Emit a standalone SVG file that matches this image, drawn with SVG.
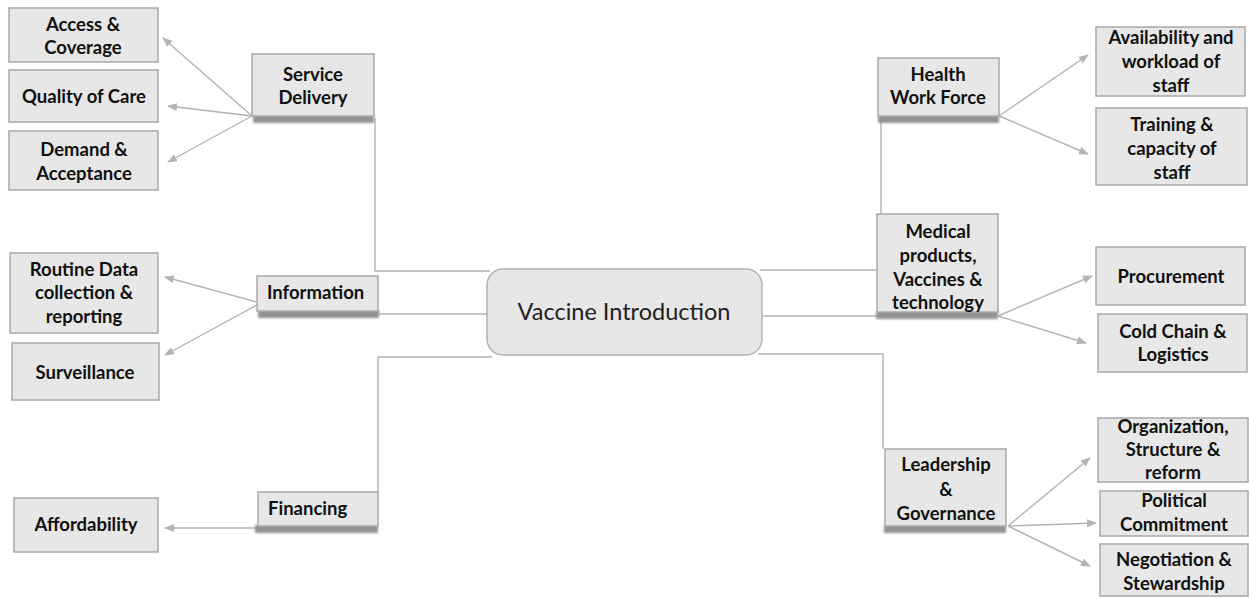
<svg xmlns="http://www.w3.org/2000/svg" width="1249" height="599" viewBox="0 0 1249 599">
<defs>
<style>
.box{fill:#e7e7e7;stroke:#a9a9a9;stroke-width:1.5}
.shadow{fill:#939393;filter:url(#blur)}
.t{font-family:Lato,"Open Sans","Liberation Sans",sans-serif;font-weight:bold;font-size:18.5px;fill:#111;text-anchor:middle}
.tl{text-anchor:start}
.ln{fill:none;stroke:#b3b3b3;stroke-width:1.4}
.ar{fill:none;stroke:#b3b3b3;stroke-width:1.4;marker-end:url(#ah)}
.center{font-family:Lato,"Open Sans","Liberation Sans",sans-serif;font-size:23.5px;fill:#222;text-anchor:middle}
</style>
<filter id="blur" x="-10%" y="-50%" width="120%" height="200%"><feGaussianBlur stdDeviation="1.2"/></filter>
<marker id="ah" markerWidth="10" markerHeight="8" refX="9" refY="4" orient="auto" markerUnits="userSpaceOnUse">
<path d="M0,0 L10,4 L0,8 Z" fill="#b3b3b3"/>
</marker>
</defs>
<rect width="1249" height="599" fill="#fff"/>

<g id="connectors">
<polyline class="ln" points="375,118 375,271 490,271"/>
<line class="ln" x1="378" y1="314" x2="488" y2="314"/>
<polyline class="ln" points="378,492 378,357 492,357"/>
<line class="ln" x1="760" y1="270" x2="877" y2="270"/>
<line class="ln" x1="762" y1="316" x2="877" y2="316"/>
<polyline class="ln" points="758,354 883,354 883,449"/>
<line class="ln" x1="881" y1="118" x2="881" y2="214"/>
<line class="ar" x1="252" y1="116" x2="163" y2="38"/>
<line class="ar" x1="252" y1="116" x2="168" y2="106"/>
<line class="ar" x1="252" y1="116" x2="168" y2="162"/>
<line class="ar" x1="257" y1="302" x2="165" y2="277"/>
<line class="ar" x1="257" y1="305" x2="165" y2="355"/>
<line class="ar" x1="258" y1="528" x2="165" y2="528"/>
<line class="ar" x1="999" y1="116" x2="1088" y2="55"/>
<line class="ar" x1="999" y1="116" x2="1088" y2="154"/>
<line class="ar" x1="998" y1="316" x2="1092" y2="276"/>
<line class="ar" x1="998" y1="316" x2="1086" y2="343"/>
<line class="ar" x1="1008" y1="526" x2="1090" y2="458"/>
<line class="ar" x1="1008" y1="526" x2="1096" y2="523"/>
<line class="ar" x1="1008" y1="526" x2="1090" y2="566"/>
</g>

<g id="center">
<rect x="487" y="269" width="275" height="86" rx="16" ry="16" fill="#e7e7e7" stroke="#b3b3b3" stroke-width="1.5"/>
<text class="center" x="624" y="320">Vaccine Introduction</text>
</g>

<g id="service-delivery">
<rect class="shadow" x="253" y="115" width="121" height="8"/>
<rect class="box" x="252" y="54" width="122" height="62"/>
<text class="t" x="313" y="81">Service</text>
<text class="t" x="313" y="104">Delivery</text>
</g>
<g id="information">
<rect class="shadow" x="258" y="310" width="121" height="8"/>
<rect class="box" x="257" y="276" width="121" height="35"/>
<text class="t tl" x="267" y="299">Information</text>
</g>
<g id="financing">
<rect class="shadow" x="255" y="525" width="123" height="8"/>
<rect class="box" x="258" y="492" width="120" height="34"/>
<text class="t tl" x="268" y="515">Financing</text>
</g>
<g id="health-work-force">
<rect class="shadow" x="878" y="115" width="121" height="8"/>
<rect class="box" x="878" y="58" width="121" height="58"/>
<text class="t" x="938" y="81">Health</text>
<text class="t" x="938" y="104">Work Force</text>
</g>
<g id="medical-products">
<rect class="shadow" x="876" y="311" width="122" height="8"/>
<rect class="box" x="877" y="214" width="121" height="98"/>
<text class="t" x="938" y="238">Medical</text>
<text class="t" x="938" y="262">products,</text>
<text class="t" x="938" y="286">Vaccines &amp;</text>
<text class="t" x="938" y="309">technology</text>
</g>
<g id="leadership">
<rect class="shadow" x="884" y="525" width="122" height="8"/>
<rect class="box" x="885" y="449" width="121" height="77"/>
<text class="t" x="946" y="471">Leadership</text>
<text class="t" x="946" y="496">&amp;</text>
<text class="t" x="946" y="520">Governance</text>
</g>

<g id="access-coverage">
<rect class="box" x="9" y="8" width="149" height="54"/>
<text class="t" x="83" y="31">Access &amp;</text>
<text class="t" x="83" y="54">Coverage</text>
</g>
<g id="quality-of-care">
<rect class="box" x="9" y="70" width="149" height="52"/>
<text class="t" x="84" y="103">Quality of Care</text>
</g>
<g id="demand-acceptance">
<rect class="box" x="9" y="131" width="149" height="59"/>
<text class="t" x="84" y="156">Demand &amp;</text>
<text class="t" x="84" y="180">Acceptance</text>
</g>
<g id="routine-data">
<rect class="box" x="10" y="253" width="148" height="80"/>
<text class="t" x="84" y="276">Routine Data</text>
<text class="t" x="84" y="299">collection &amp;</text>
<text class="t" x="84" y="323">reporting</text>
</g>
<g id="surveillance">
<rect class="box" x="12" y="343" width="147" height="57"/>
<text class="t" x="85" y="379">Surveillance</text>
</g>
<g id="affordability">
<rect class="box" x="14" y="498" width="144" height="54"/>
<text class="t" x="86" y="531">Affordability</text>
</g>
<g id="availability">
<rect class="box" x="1096" y="27" width="149" height="69"/>
<text class="t" x="1171" y="44">Availability and</text>
<text class="t" x="1171" y="68">workload of</text>
<text class="t" x="1171" y="92">staff</text>
</g>
<g id="training">
<rect class="box" x="1096" y="108" width="151" height="77"/>
<text class="t" x="1172" y="131">Training &amp;</text>
<text class="t" x="1172" y="155">capacity of</text>
<text class="t" x="1172" y="179">staff</text>
</g>
<g id="procurement">
<rect class="box" x="1096" y="247" width="149" height="58"/>
<text class="t" x="1171" y="283">Procurement</text>
</g>
<g id="cold-chain">
<rect class="box" x="1098" y="314" width="149" height="58"/>
<text class="t" x="1173" y="338">Cold Chain &amp;</text>
<text class="t" x="1173" y="361">Logistics</text>
</g>
<g id="organization">
<rect class="box" x="1098" y="418" width="150" height="64"/>
<text class="t" x="1173" y="433">Organization,</text>
<text class="t" x="1173" y="456">Structure &amp;</text>
<text class="t" x="1173" y="479">reform</text>
</g>
<g id="political">
<rect class="box" x="1100" y="491" width="148" height="45"/>
<text class="t" x="1174" y="507">Political</text>
<text class="t" x="1174" y="531">Commitment</text>
</g>
<g id="negotiation">
<rect class="box" x="1100" y="544" width="148" height="52"/>
<text class="t" x="1174" y="566">Negotiation &amp;</text>
<text class="t" x="1174" y="590">Stewardship</text>
</g>
</svg>
